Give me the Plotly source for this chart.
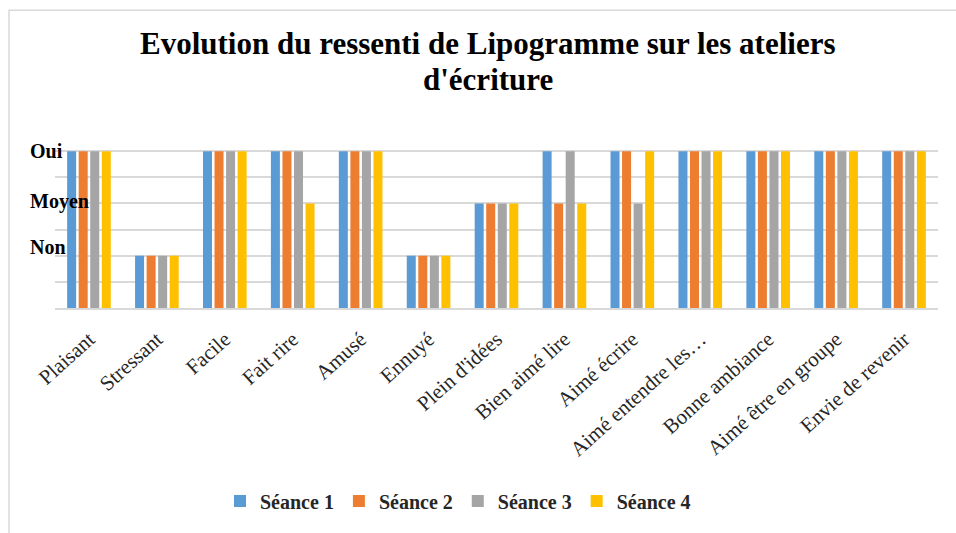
import plotly.graph_objects as go

categories = ["Plaisant", "Stressant", "Facile", "Fait rire", "Amusé", "Ennuyé",
              "Plein d'idées", "Bien aimé lire", "Aimé écrire", "Aimé entendre les…",
              "Bonne ambiance", "Aimé être en groupe", "Envie de revenir"]
seance1 = [6, 2, 6, 6, 6, 2, 4, 6, 6, 6, 6, 6, 6]
seance2 = [6, 2, 6, 6, 6, 2, 4, 4, 6, 6, 6, 6, 6]
seance3 = [6, 2, 6, 6, 6, 2, 4, 6, 4, 6, 6, 6, 6]
seance4 = [6, 2, 6, 4, 6, 2, 4, 4, 6, 6, 6, 6, 6]
series_names = ["Séance 1", "Séance 2", "Séance 3", "Séance 4"]
level_labels = ["Oui", "Moyen", "Non"]
level_values = [6, 4, 2]
title_lines = ["Evolution du ressenti de Lipogramme sur les ateliers", "d'écriture"]

colors = ["#5B9BD5", "#ED7D31", "#A5A5A5", "#FFC000"]
label_offsets = [0.0, 0.08, 0.33]

W, H = 956, 533
ml, mr, mt, mb = 55, 18, 125, 223
pw, ph = W - ml - mr, H - mt - mb

def px_x(p):
    return (p - ml) / pw

def px_y(p):
    return (H - mb - p) / ph

fig = go.Figure()
for name, vals, c in zip(series_names, [seance1, seance2, seance3, seance4], colors):
    fig.add_trace(go.Bar(x=categories, y=vals, name="<b>" + name + "</b>",
                         marker=dict(color=c, line=dict(width=0))))

annotations = []
for lab, v, off in zip(level_labels, level_values, label_offsets):
    annotations.append(dict(x=px_x(28), xref="paper", y=v + off, yref="y", text="<b>" + lab + "</b>",
                            showarrow=False, xanchor="left", yanchor="middle",
                            font=dict(family="Liberation Serif", size=20, color="#000000")))
for line, ypix in zip(title_lines, [43, 79]):
    annotations.append(dict(x=px_x(488), xref="paper", y=px_y(ypix), yref="paper",
                            text="<b>" + line + "</b>", showarrow=False,
                            xanchor="center", yanchor="middle",
                            font=dict(family="Liberation Serif", size=31, color="#000000")))

fig.update_layout(
    width=W, height=H,
    margin=dict(l=ml, r=mr, t=mt, b=mb),
    paper_bgcolor="white", plot_bgcolor="white",
    barmode="group", bargap=0.32, bargroupgap=0.22,
    xaxis=dict(tickangle=-42, showgrid=False, showline=True, linecolor="#d9d9d9", linewidth=1.5,
               ticks="", tickfont=dict(family="Liberation Serif", size=21, color="#262626"),
               ticklabelstandoff=9, automargin=False),
    yaxis=dict(range=[0, 7], dtick=1, showticklabels=False, showgrid=True,
               gridcolor="#d9d9d9", gridwidth=1.5, zeroline=False, automargin=False),
    legend=dict(orientation="h", x=px_x(220), xanchor="left", y=px_y(505), yanchor="middle",
                font=dict(family="Liberation Serif", size=20, color="#262626"),
                itemwidth=30, traceorder="normal"),
    annotations=annotations,
    shapes=[dict(type="rect", xref="paper", yref="paper",
                 x0=px_x(9), x1=px_x(975), y0=px_y(560), y1=px_y(9),
                 line=dict(color="#d9d9d9", width=1.5), layer="below")],
    showlegend=True,
)
fig.write_html("out.html", config={"displayModeBar": False},
               post_script="document.body.style.margin='0';document.body.style.overflow='hidden';")
